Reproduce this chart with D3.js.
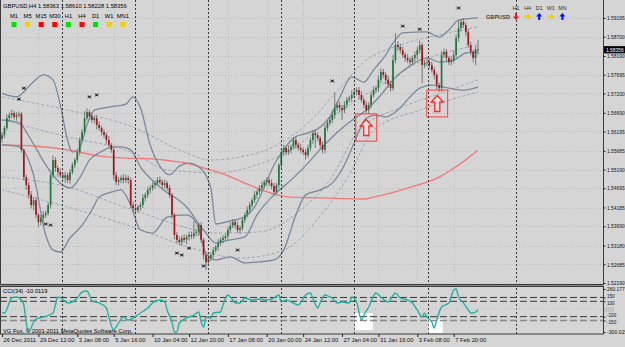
<!DOCTYPE html>
<html>
<head>
<meta charset="utf-8">
<script src="https://cdn.jsdelivr.net/npm/d3@7"></script>
<style>
html, body { margin: 0; padding: 0; background: #d5d5d5; }
svg { display: block; font-family: "Liberation Sans", Arial, sans-serif; }
</style>
</head>
<body>
<div id="chart"></div>
<script>
// GBPUSD H4 - prices in pips (x 1e-4)
const firstOpen = 15600;
const closes = [
  15610,15629,15655,15663,15668,15658,15663,15666,15571,15499,
  15478,15452,15425,15438,15399,15380,15391,15399,15404,15425,
  15504,15544,15523,15512,15504,15497,15504,15491,15512,15531,
  15544,15565,15597,15618,15655,15671,15660,15650,15655,15637,
  15629,15618,15610,15597,15584,15571,15504,15486,15491,15497,
  15491,15497,15491,15425,15417,15412,15420,15425,15444,15452,
  15465,15470,15478,15483,15491,15486,15478,15483,15470,15452,
  15399,15346,15333,15327,15338,15333,15341,15346,15343,15351,
  15354,15372,15333,15293,15274,15285,15293,15306,15314,15325,
  15333,15338,15343,15359,15370,15380,15372,15359,15364,15386,
  15399,15412,15425,15438,15452,15460,15470,15478,15486,15491,
  15483,15475,15460,15478,15531,15565,15576,15565,15571,15579,
  15597,15584,15576,15571,15565,15557,15576,15597,15615,15610,
  15602,15584,15571,15629,15642,15650,15663,15682,15690,15682,
  15676,15690,15703,15708,15716,15724,15729,15716,15703,15690,
  15676,15690,15716,15729,15734,15756,15777,15769,15756,15745,
  15734,15808,15848,15843,15835,15822,15814,15808,15803,15814,
  15822,15835,15848,15795,15801,15803,15795,15782,15769,15742,
  15734,15822,15830,15814,15803,15808,15822,15867,15893,15909,
  15901,15882,15848,15830,15814,15836.3,15835.6
];
// wick lengths above / below the body, pips
const wickUp = [
  8,6,10,7,9,6,8,7,5,4, 6,8,10,7,9,6,8,10,6,7, 5,12,8,6,10,7,9,6,8,7,
  6,5,7,8,18,10,6,9,7,8, 9,6,8,7,10,5,6,9,8,7, 10,8,6,7,9,8,6,7,10,6,
  8,7,9,6,8,10,7,9,6,8, 5,6,8,9,7,10,6,8,9,32, 7,6,8,5,6,9,7,8,6,10,
  7,8,6,9,10,8,7,9,6,8, 7,9,8,6,10,7,8,9,6,8, 7,10,8,6,5,9,8,7,12,6,
  8,9,7,10,6,8,9,7,8,10, 7,6,9,8,7,10,12,40,8,9, 7,10,8,6,12,9,7,8,10,6,
  9,7,8,10,6,12,9,8,7,10, 8,14,32,10,8,9,7,10,8,6, 9,8,12,6,8,10,7,9,8,6,
  7,10,9,8,6,10,12,9,19,8, 10,7,9,8,6,9,25
];
const wickDn = [
  10,7,6,9,8,7,10,6,8,9, 12,10,9,14,8,13,9,10,8,7, 9,8,10,12,7,9,14,8,10,6,
  8,7,9,6,8,7,10,8,9,12, 7,9,8,10,6,8,12,9,10,8, 9,7,10,8,12,9,7,10,8,9,
  8,10,7,9,8,6,10,9,7,8, 10,12,9,8,10,7,11,9,8,7, 9,10,8,12,21,10,8,9,7,10,
  8,9,7,10,8,6,9,8,10,7, 8,7,9,6,8,10,7,9,8,10, 9,8,10,7,8,9,10,8,7,9,
  8,10,7,9,8,12,7,9,10,34, 8,7,10,9,8,7,9,10,8,12, 26,8,9,7,10,8,9,10,7,9,
  8,10,9,7,8,10,9,8,12,10, 9,7,8,10,9,8,10,7,9,8, 10,12,9,48,8,10,9,7,12,13,
  10,9,8,10,7,9,8,7,10,9, 8,10,7,9,12,19,13
];

// indicator lines: [bar, price pips]
const bbUpper = [[0,15721],[6,15711],[12,15745],[17,15769],[21,15756],[24,15690],[27,15597],[29,15565],[32,15576],[35,15637],[38,15676],[44,15684],[51,15692],[54,15711],[57,15682],[61,15584],[65,15528],[69,15505],[73,15528],[77,15536],[81,15526],[86,15470],[88,15375],[94,15383],[100,15394],[104,15420],[108,15473],[112,15531],[116,15571],[120,15602],[126,15616],[131,15631],[135,15658],[139,15708],[144,15764],[149,15750],[153,15782],[158,15822],[161,15853],[165,15880],[175,15883],[180,15869],[184,15888],[188,15914],[196,15920]];
const bbMiddle = [[0,15650],[7,15642],[12,15597],[18,15531],[24,15483],[28,15470],[32,15497],[36,15544],[40,15563],[46,15579],[49,15579],[53,15571],[57,15526],[65,15473],[76,15420],[83,15359],[88,15325],[94,15333],[100,15341],[105,15399],[112,15452],[119,15491],[126,15536],[132,15579],[139,15623],[146,15658],[149,15671],[156,15716],[161,15756],[168,15793],[175,15814],[180,15803],[186,15808],[191,15827],[196,15830]];
const bbLower = [[0,15584],[7,15579],[13,15504],[18,15346],[21,15306],[24,15301],[28,15338],[33,15372],[37,15412],[40,15446],[44,15457],[49,15465],[53,15425],[57,15359],[62,15351],[68,15393],[76,15399],[80,15378],[84,15298],[88,15280],[94,15288],[100,15272],[106,15275],[112,15280],[116,15306],[121,15399],[125,15452],[131,15465],[136,15483],[141,15531],[145,15589],[150,15655],[154,15663],[158,15658],[164,15682],[168,15711],[172,15734],[177,15742],[184,15734],[190,15729],[196,15737]];
const envUpper2 = [[0,15711],[27,15676],[54,15631],[73,15571],[86,15544],[98,15552],[109,15571],[126,15642],[139,15734],[149,15803],[164,15848],[180,15875],[196,15896]];
const envUpper1 = [[0,15650],[27,15605],[54,15563],[68,15518],[90,15510],[102,15526],[119,15571],[136,15658],[156,15742],[172,15803],[196,15848]];
const envLower1 = [[0,15499],[27,15473],[54,15412],[90,15351],[106,15354],[123,15412],[135,15491],[147,15623],[164,15682],[180,15719],[196,15756]];
const envLower2 = [[0,15465],[27,15420],[54,15367],[81,15306],[98,15285],[116,15306],[131,15396],[143,15505],[153,15623],[172,15676],[196,15724]];
const maSlow = [[0,15584],[13,15581],[27,15571],[40,15555],[51,15549],[62,15547],[69,15542],[76,15536],[83,15523],[90,15510],[100,15483],[105,15470],[112,15454],[119,15446],[132,15444],[149,15441],[153,15446],[167,15470],[180,15499],[188,15531],[196,15570]];

// fractal marks [bar, price pips]
const marks = [[7,15705],[9,15734],[18,15375],[20,15372],[36,15711],[39,15716],[72,15298],[74,15293],[77,15311],[83,15264],[97,15306],[136,15753],[165,15898],[172,15890],[188,15946]];
// buy signal boxes: bar from/to, price top/bottom
const signals = [{from:145.7, to:154.3, top:15666, bottom:15594}, {from:174.9, to:183.5, top:15729, bottom:15658}];

// CCI(34) [bar, value]
const cci = [[0,-53],[1,-53],[4,143],[6,156],[8,117],[9,52],[10,-183],[11,-300],[13,-170],[14,-131],[17,-105],[21,-53],[22,52],[23,156],[25,130],[27,78],[29,91],[31,143],[33,221],[35,234],[36,182],[37,104],[40,78],[43,13],[44,-105],[46,-274],[47,-235],[50,-105],[52,-144],[54,-118],[57,-53],[60,13],[62,78],[65,117],[67,91],[68,-13],[70,-170],[71,-300],[72,-300],[73,-183],[76,-118],[79,-79],[81,-40],[82,-170],[83,-235],[84,-105],[86,-118],[87,-53],[90,-40],[91,52],[93,182],[95,117],[96,78],[98,78],[100,143],[103,117],[106,130],[109,117],[112,143],[114,182],[115,91],[117,117],[120,78],[122,52],[125,182],[127,208],[128,143],[130,13],[131,78],[133,182],[135,156],[136,143],[138,78],[140,91],[143,78],[144,156],[146,91],[148,-144],[149,-79],[151,26],[154,208],[156,156],[159,91],[162,208],[164,143],[167,117],[169,78],[171,-13],[173,-105],[174,-53],[175,-105],[177,-170],[178,-248],[179,-144],[181,26],[184,78],[186,247],[187,260],[188,156],[190,78],[192,-13],[193,-53],[195,-40],[196,-10]];
const cciLevels = [150, 100, -100, -150];
const cciTicks = [260.177, 150, 100, -100, -150, -300.025];
const cciBoxes = [{from:145.3, to:152.7, top:-53, bottom:-274}, {from:175.7, to:181.5, top:-131, bottom:-313}];

const priceTicks = [1.59195,1.58700,1.58190,1.57695,1.57200,1.56690,1.56195,1.55685,1.55190,1.54695,1.54185,1.53690,1.53180,1.52685,1.52190];
const timeBars = [0,15,31,46,62,77,93,109,124,140,155,171,186];
const timeLabels = ["26 Dec 2011","29 Dec 12:00","3 Jan 08:00","5 Jan 16:00","10 Jan 04:00","12 Jan 20:00","17 Jan 08:00","20 Jan 00:00","24 Jan 12:00","27 Jan 04:00","31 Jan 16:00","3 Feb 08:00","7 Feb 20:00"];
const weekBreaks = [24.7, 54.7, 84.8, 114.8, 144.9, 175.3, 211.5];

const tfNames = ["M1","M5","M15","M30","H1","H4","D1","W1","MN1"];
const tfColors = ["#00e000","#f0d000","#ff0000","#ff0000","#00e000","#ff0000","#00e000","#f0d000","#f0d000"];
const trendNames = ["H1","H4","D1","W1","MN"];
const trendDirs = ["down","right","up","right","up"];
const lastPrice = 1.58356;

// ---------- drawing ----------
const W = 625, H = 347;
const plotR = 603, mainB = 284, cciT = 287, cciB = 334;

const svg = d3.select("#chart").append("svg").attr("width", W).attr("height", H);
svg.append("rect").attr("width", W).attr("height", H).attr("fill", "#d5d5d5");

const x = d3.scaleLinear().domain([0, 196]).range([2, 478]);
const y = d3.scaleLinear().domain([1.52190, 1.59195]).range([283, 18]);
const yc = d3.scaleLinear().domain([-300.025, 260.177]).range([332, 289]);
const px = v => y(v / 1e4);

svg.append("clipPath").attr("id", "mainClip").append("rect")
  .attr("x", 1).attr("y", 0).attr("width", plotR - 1).attr("height", mainB);
svg.append("clipPath").attr("id", "cciClip").append("rect")
  .attr("x", 1).attr("y", cciT).attr("width", plotR - 1).attr("height", cciB - cciT);

const main = svg.append("g").attr("clip-path", "url(#mainClip)");

// grid
main.selectAll(".hgrid").data(priceTicks).enter().append("line")
  .attr("x1", 0).attr("x2", plotR).attr("y1", d => Math.round(y(d)) + 0.5).attr("y2", d => Math.round(y(d)) + 0.5)
  .attr("stroke", "#b9b9b9").attr("stroke-dasharray", "1,2");
main.selectAll(".vgrid").data(timeBars.slice(1)).enter().append("line")
  .attr("x1", d => Math.round(x(d)) + 0.5).attr("x2", d => Math.round(x(d)) + 0.5).attr("y1", 0).attr("y2", mainB)
  .attr("stroke", "#bdbdbd").attr("stroke-dasharray", "1,2");

// period separators (both panels)
svg.selectAll(".sep").data(weekBreaks).enter().append("line")
  .attr("x1", d => Math.round(x(d)) + 0.5).attr("x2", d => Math.round(x(d)) + 0.5)
  .attr("y1", 0).attr("y2", cciB)
  .attr("stroke", "#3a3a3a").attr("stroke-dasharray", "2,2");

const line = d3.line().x(d => x(d[0])).y(d => px(d[1])).curve(d3.curveMonotoneX);

// slow envelopes (dashed)
[envUpper2, envUpper1, envLower1, envLower2].forEach(s => {
  main.append("path").datum(s).attr("d", line)
    .attr("fill", "none").attr("stroke", "#8f9cab").attr("stroke-width", 0.8).attr("stroke-dasharray", "3,2");
});

// slow MA
main.append("path").datum(maSlow).attr("d", line)
  .attr("fill", "none").attr("stroke", "#f07a7a").attr("stroke-width", 1.4);

// bollinger
[bbUpper, bbMiddle, bbLower].forEach(s => {
  main.append("path").datum(s).attr("d", line)
    .attr("fill", "none").attr("stroke", "#7a899b").attr("stroke-width", 1.3);
});

// candles
const bars = closes.map((c, i) => {
  const o = i === 0 ? firstOpen : closes[i - 1];
  return { i, o, c, h: Math.max(o, c) + wickUp[i], l: Math.min(o, c) - wickDn[i] };
});
main.selectAll(".wick").data(bars).enter().append("line")
  .attr("x1", d => x(d.i)).attr("x2", d => x(d.i))
  .attr("y1", d => px(d.h)).attr("y2", d => px(d.l))
  .attr("stroke", "#6e6e6e").attr("stroke-width", 0.9);
main.selectAll(".body").data(bars).enter().append("rect")
  .attr("x", d => x(d.i) - 0.85).attr("width", 1.7)
  .attr("y", d => px(Math.max(d.o, d.c)))
  .attr("height", d => Math.max(0.8, Math.abs(px(d.o) - px(d.c))))
  .attr("fill", d => d.c >= d.o ? "#1c7a3c" : "#a8141c");

// fractal marks
const mk = main.selectAll(".mark").data(marks).enter().append("g")
  .attr("transform", d => `translate(${x(d[0])},${px(d[1])})`);
mk.append("path").attr("d", "M-1.5,-1.5L1.5,1.5M-1.5,1.5L1.5,-1.5M-1.8,0L1.8,0")
  .attr("stroke", "#1a1a1a").attr("stroke-width", 0.9);

// buy signal boxes
const sg = main.selectAll(".sig").data(signals).enter().append("g");
sg.append("rect")
  .attr("x", d => x(d.from)).attr("y", d => px(d.top))
  .attr("width", d => x(d.to) - x(d.from)).attr("height", d => px(d.bottom) - px(d.top))
  .attr("fill", "none").attr("stroke", "#ff3b3b").attr("stroke-width", 1);
sg.append("path")
  .attr("transform", d => `translate(${(x(d.from) + x(d.to)) / 2},${(px(d.top) + px(d.bottom)) / 2})`)
  .attr("d", "M0,-8L6,-1.5L2.6,-1.5L2.6,8L-2.6,8L-2.6,-1.5L-6,-1.5Z")
  .attr("fill", "#f1e2e2").attr("stroke", "#ff2a2a").attr("stroke-width", 1.3);

// ---------- header ----------
svg.append("text").attr("x", 3).attr("y", 8).attr("font-size", 5.8).attr("fill", "#000")
  .text("GBPUSD,H4  1.58363 1.58610 1.58228 1.58356");
const tf = svg.selectAll(".tf").data(tfNames).enter().append("g")
  .attr("transform", (d, k) => `translate(${14 + k * 13.6},0)`);
tf.append("text").attr("y", 18).attr("text-anchor", "middle").attr("font-size", 5.8).text(d => d);
tf.append("rect").attr("x", -2.5).attr("y", 22).attr("width", 5).attr("height", 5)
  .attr("fill", (d, k) => tfColors[k]);

svg.append("text").attr("x", 486).attr("y", 19).attr("font-size", 5.6).attr("font-weight", "bold").attr("fill", "#444").text("GBPUSD");
const arrowPath = {
  up: "M0,-3.5L3,0L1,0L1,3.5L-1,3.5L-1,0L-3,0Z",
  down: "M0,3.5L3,0L1,0L1,-3.5L-1,-3.5L-1,0L-3,0Z",
  right: "M3.5,0L0,-3L0,-1L-3.5,-1L-3.5,1L0,1L0,3Z"
};
const arrowColor = { up: "#0010ff", down: "#ff1010", right: "#f0d000" };
const tr = svg.selectAll(".trend").data(trendNames).enter().append("g")
  .attr("transform", (d, k) => `translate(${516 + k * 11.6},0)`);
tr.append("text").attr("y", 10).attr("text-anchor", "middle").attr("font-size", 5.4).attr("fill", "#333").text(d => d);
tr.append("path").attr("transform", "translate(0,16.5)")
  .attr("d", (d, k) => arrowPath[trendDirs[k]]).attr("fill", (d, k) => arrowColor[trendDirs[k]]);

// ---------- CCI panel ----------
const cp = svg.append("g").attr("clip-path", "url(#cciClip)");
cp.selectAll(".cbox").data(cciBoxes).enter().append("rect")
  .attr("x", d => x(d.from)).attr("width", d => x(d.to) - x(d.from))
  .attr("y", d => yc(d.top)).attr("height", d => yc(d.bottom) - yc(d.top))
  .attr("fill", "#ffffff");
cp.append("line").attr("x1", 0).attr("x2", plotR).attr("y1", yc(0)).attr("y2", yc(0))
  .attr("stroke", "#bdbdbd").attr("stroke-dasharray", "1,2");
cp.selectAll(".lvl").data(cciLevels).enter().append("line")
  .attr("x1", 0).attr("x2", plotR).attr("y1", d => yc(d)).attr("y2", d => yc(d))
  .attr("stroke", d => d === -150 ? "#8a8a8a" : "#383838")
  .attr("stroke-width", d => d === -150 ? 1.4 : 1)
  .attr("stroke-dasharray", "7,3");
cp.append("path").datum(cci)
  .attr("d", d3.line().x(d => x(d[0])).y(d => yc(d[1])).curve(d3.curveMonotoneX))
  .attr("fill", "none").attr("stroke", "#22b3a3").attr("stroke-width", 1.4);
svg.append("text").attr("x", 3).attr("y", 293).attr("font-size", 5.8).text("CCI(34) -10.0119");
svg.append("text").attr("x", 3).attr("y", 333).attr("font-size", 5.8).text("VG Fox, \u00a9 2001-2011 MetaQuotes Software Corp.");

// ---------- frames ----------
svg.append("path").attr("d", `M0.5,0V${mainB + 0.5}H${plotR + 0.5}V0`)
  .attr("fill", "none").attr("stroke", "#3c3c3c");
svg.append("rect").attr("x", 0).attr("y", mainB + 1).attr("width", plotR + 1).attr("height", 1.6)
  .attr("fill", "#8a8a8a");
svg.append("rect").attr("x", 0.5).attr("y", cciT - 0.5).attr("width", plotR).attr("height", cciB - cciT + 0.5)
  .attr("fill", "none").attr("stroke", "#3c3c3c");

// ---------- axes ----------
const fitText = sel => sel.each(function () {
  const n = this.textContent.length;
  if (n > 4) d3.select(this).attr("textLength", n * 2.55).attr("lengthAdjust", "spacingAndGlyphs");
});
const pAxis = svg.append("g").attr("transform", `translate(${plotR + 0.5},0)`)
  .call(d3.axisRight(y).tickValues(priceTicks).tickFormat(d3.format(".5f")).tickSize(2).tickPadding(1.5));
const cAxis = svg.append("g").attr("transform", `translate(${plotR + 0.5},0)`)
  .call(d3.axisRight(yc).tickValues(cciTicks).tickFormat(d => d % 1 ? d.toFixed(3) : d).tickSize(2).tickPadding(1.5));
const tAxis = svg.append("g").attr("transform", `translate(0,${cciB})`)
  .call(d3.axisBottom(x).tickValues(timeBars).tickFormat((d, k) => timeLabels[k]).tickSize(3).tickPadding(2));
[pAxis, cAxis, tAxis].forEach(a => {
  a.select(".domain").remove();
  a.selectAll("text").attr("font-size", 5.8).attr("fill", "#111").attr("font-family", "Liberation Sans, Arial, sans-serif");
  a.selectAll("line").attr("stroke", "#222");
});
pAxis.selectAll("text").attr("font-size", 5.4).call(fitText);
cAxis.selectAll("text").attr("font-size", 4.6).call(fitText)
  .attr("dy", d => d === 150 || d === -100 ? "0.05em" : d === 100 || d === -150 ? "0.75em" : "0.32em");
tAxis.selectAll("text").attr("text-anchor", "start").attr("x", 1).attr("dy", "0.6em");

// current price tag
svg.append("rect").attr("x", plotR + 1).attr("y", y(lastPrice) - 3.6).attr("width", W - plotR - 1).attr("height", 7.2).attr("fill", "#000");
svg.append("text").attr("x", plotR + 3).attr("y", y(lastPrice) + 2).attr("font-size", 5.4).attr("fill", "#fff")
  .text(lastPrice.toFixed(5)).call(fitText);
// current cci tag
svg.append("rect").attr("x", plotR + 1).attr("y", yc(-10.0119) - 2.5).attr("width", 10).attr("height", 5).attr("fill", "#c4c4c4");
</script>
</body>
</html>
